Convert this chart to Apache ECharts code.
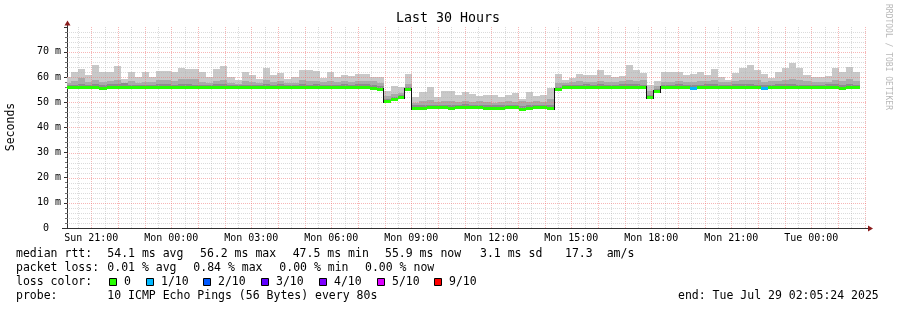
<!DOCTYPE html>
<html><head><meta charset="utf-8">
<script src="https://cdn.jsdelivr.net/npm/echarts@6/dist/echarts.min.js"></script>
<style>html,body{margin:0;padding:0;background:#fff;}#c{width:897px;height:310px;}</style>
</head><body><div id="c"></div>
<script>
const FONT = '"DejaVu Sans Mono", monospace';

// x axis: minutes since start (Sun 20:05:24); 30 hours shown
const spanMinutes = 1800;
const tickMinutes = [54.6, 234.6, 414.6, 594.6, 774.6, 954.6, 1134.6, 1314.6, 1494.6, 1674.6];
const tickLabels = ['Sun 21:00','Mon 00:00','Mon 03:00','Mon 06:00','Mon 09:00','Mon 12:00','Mon 15:00','Mon 18:00','Mon 21:00','Tue 00:00'];
const stepMin = 16;          // consolidation step (960 s)
const firstBarStart = -7;    // minute at which the first step starts

// per-step values (ms)
const median = [
 55.9,56.0,56.1,55.9,56.0,55.8,56.0,56.1,56.0,55.9,56.0,56.1,55.9,56.0,56.0,56.1,56.2,56.0,55.9,56.0,56.0,56.1,56.0,55.9,56.0,56.0,56.1,56.0,55.9,56.0,56.0,56.1,56.0,56.0,55.9,56.0,56.1,56.0,56.0,55.9,56.0,56.0,55.9,55.6,55.4,
 50.4,51.3,52.0,55.1,
 47.8,47.9,48.0,48.1,48.0,47.9,48.0,48.1,48.0,48.0,47.9,47.8,47.9,48.0,48.1,47.5,47.8,48.0,48.0,47.8,
 55.2,56.0,55.9,56.0,56.0,56.1,56.0,56.0,56.0,56.1,56.0,56.0,55.9,
 52.2,54.4,
 56.0,55.9,56.0,56.0,55.8,56.0,56.1,56.0,55.9,56.0,56.0,56.1,56.0,55.9,55.6,56.0,56.0,56.1,56.0,56.0,55.9,56.0,56.0,56.0,56.1,55.6,55.9,55.9
];
const smokeDark = [
 56.9,57.0,57.4,56.8,57.1,56.7,57.2,57.3,57.6,56.9,56.8,57.0,56.9,57.1,57.3,57.0,57.4,57.2,57.0,56.9,56.8,57.1,57.2,56.8,56.7,57.0,56.9,56.8,57.2,57.0,57.1,56.8,56.8,57.2,57.0,57.1,56.8,57.0,57.0,57.1,56.9,57.2,57.3,56.9,56.5,
 51.2,52.0,52.8,56.0,
 48.7,48.8,49.0,49.0,48.9,48.8,48.9,49.1,48.9,49.0,48.8,48.7,48.8,49.0,49.0,48.6,48.7,48.9,48.9,49.0,
 56.2,56.9,56.8,57.0,57.1,57.0,57.2,57.0,56.9,57.1,57.2,57.3,57.0,
 53.0,55.2,
 57.0,56.9,57.1,57.0,56.8,57.0,57.2,57.1,56.8,56.9,57.2,57.3,57.1,57.0,56.7,57.0,57.1,57.4,57.3,57.0,56.9,57.0,57.0,57.1,57.3,56.7,57.2,56.9
];
const smokeMid = [
 57.8,58.6,59.6,58.2,58.8,57.9,58.4,58.9,57.6,58.3,57.7,58.2,57.9,58.8,59.0,58.6,59.3,59.1,59.3,58.2,57.8,58.5,58.9,57.6,57.4,58.3,58.0,57.6,58.9,58.1,58.4,57.5,57.8,58.7,58.3,58.6,57.9,58.5,58.2,58.6,58.1,58.4,58.6,58.3,57.6,
 52.6,53.2,53.6,57.2,
 49.8,50.6,51.0,49.9,50.4,50.3,50.0,50.6,50.1,50.3,50.0,49.8,50.2,50.5,50.0,50.4,49.9,50.3,50.2,51.2,
 57.6,57.8,57.9,58.4,58.0,58.2,58.5,58.1,58.0,58.3,58.8,58.6,58.9,
 54.4,56.4,
 58.2,58.0,58.3,58.2,58.1,58.5,58.4,58.9,57.9,58.0,58.6,59.0,58.7,58.8,58.0,58.4,58.3,58.9,59.2,58.9,58.4,58.1,58.2,58.0,58.8,58.6,59.1,58.5
];
const smokeMax = [
 59.9,61.9,63.3,60.7,64.9,61.9,61.9,64.5,59.2,61.9,59.9,62.1,60.1,62.4,62.4,61.9,63.8,63.3,63.3,61.9,59.9,63.3,64.5,59.9,58.9,61.9,61.0,59.2,63.8,60.7,61.6,59.1,60.1,62.9,62.9,62.5,59.6,62.2,60.1,60.9,60.3,61.4,61.3,60.0,59.9,
 54.5,56.5,55.9,61.3,
 51.9,54.0,55.9,51.9,54.5,54.5,53.0,54.0,53.3,52.3,53.0,53.0,51.9,53.0,53.6,51.4,54.0,52.4,52.7,55.6,
 61.3,58.7,59.6,61.3,60.9,60.9,62.7,60.9,60.0,60.5,64.9,62.9,61.6,
 57.0,58.5,
 62.0,62.0,62.0,60.9,61.4,62.0,60.9,63.1,60.1,59.0,61.6,63.8,64.6,62.9,61.2,59.6,62.0,63.8,65.4,63.8,60.9,60.1,60.1,60.3,63.8,62.0,64.1,62.0
];
// loss per step in tenths (0 = no loss)
const lossTenths = median.map(() => 0);
lossTenths[88] = 1; lossTenths[98] = 1;

const lossLegend = [['0','#26ff00'],['1/10','#00b8ff'],['2/10','#0059ff'],['3/10','#5e00ff'],['4/10','#7e00ff'],['5/10','#dd00ff'],['9/10','#ff0000']];
const lossColorOf = {0:'#26ff00',1:'#00b8ff',2:'#0059ff',3:'#5e00ff',4:'#7e00ff',5:'#dd00ff',9:'#ff0000'};

const rttStats = ['54.1 ms avg','56.2 ms max','47.5 ms min','55.9 ms now','3.1 ms sd','17.3','am/s'];
const lossStats = ['0.01 % avg','0.84 % max','0.00 % min','0.00 % now'];
const probeText = '10 ICMP Echo Pings (56 Bytes) every 80s';
const endText = 'end: Tue Jul 29 02:05:24 2025';

const smokeData = median.map((m, i) => {
  const s = firstBarStart + stepMin * i;
  return [s, s + stepMin, m, smokeDark[i], smokeMid[i], smokeMax[i]];
});
const medData = median.map((m, i) => {
  const s = firstBarStart + stepMin * i;
  return [s, s + stepMin, m, i > 0 ? median[i - 1] : m, lossTenths[i]];
});

// grid line values (decoration)
const gridLines = [];
for (let k = 0; k < 30; k++) { gridLines.push([0, 24.6 + 60 * k, 0]); gridLines.push([0, 54.6 + 60 * k, 1]); }
for (let v = 2; v < 80; v += 2) gridLines.push([1, v, v % 10 === 0 ? 1 : 0]);

function clampX(x, cs) { return Math.max(cs.x, Math.min(cs.x + cs.width, x)); }

const chart = echarts.init(document.getElementById('c'), null, {renderer: 'canvas'});
chart.setOption({
  animation: false,
  backgroundColor: '#ffffff',
  grid: {left: 67, top: 27, width: 800, height: 201},
  xAxis: {
    type: 'value', min: 0, max: spanMinutes,
    axisLine: {show: true, lineStyle: {color: '#303030', width: 1}},
    axisTick: {show: false},
    splitLine: {show: false},
    axisLabel: {
      customValues: tickMinutes,
      formatter: v => { const i = tickMinutes.findIndex(t => Math.abs(t - v) < 0.5); return i >= 0 ? tickLabels[i] : ''; },
      fontFamily: FONT, fontSize: 10, color: '#000', margin: 5
    }
  },
  yAxis: {
    type: 'value', min: 0, max: 79.9, interval: 10,
    axisLine: {show: true, lineStyle: {color: '#303030', width: 1}},
    axisTick: {show: true, length: 3, lineStyle: {color: '#303030'}},
    minorTick: {show: true, splitNumber: 5, length: 2, lineStyle: {color: '#707070'}},
    splitLine: {show: false},
    axisLabel: {
      showMaxLabel: false,
      formatter: v => v === 0 ? '0  ' : (v > 75 ? '' : v + ' m'),
      fontFamily: FONT, fontSize: 10, color: '#000', margin: 6
    }
  },
  series: [
    {
      type: 'custom', z: 1, silent: true,
      data: smokeData,
      renderItem: (params, api) => {
        const cs = params.coordSys;
        const x0 = Math.round(clampX(api.coord([api.value(0), 0])[0], cs));
        const x1 = Math.round(clampX(api.coord([api.value(1), 0])[0], cs));
        const bands = [[2, 3, '#8c8c8c'], [3, 4, '#a9a9a9'], [4, 5, '#c9c9c9']];
        return {type: 'group', children: bands.map(([a, b, c]) => {
          const yt = Math.round(api.coord([0, api.value(b)])[1]);
          const yb = Math.round(api.coord([0, api.value(a)])[1]);
          return {type: 'rect', shape: {x: x0, y: yt, width: x1 - x0, height: Math.max(0, yb - yt)}, style: {fill: c}};
        })};
      }
    },
    {
      type: 'custom', z: 2, silent: true,
      data: gridLines,
      renderItem: (params, api) => {
        const cs = params.coordSys;
        const kind = api.value(0), v = api.value(1), major = api.value(2);
        const color = major ? 'rgba(240,110,110,0.5)' : 'rgba(175,175,175,0.45)';
        if (kind === 0) {
          const x = Math.round(api.coord([v, 0])[0]) + 0.5;
          return {type: 'line', shape: {x1: x, y1: cs.y, x2: x, y2: cs.y + cs.height}, style: {stroke: color, lineWidth: 1, lineDash: [1, 1]}};
        }
        const y = Math.round(api.coord([0, v])[1]) + 0.5;
        return {type: 'line', shape: {x1: cs.x, y1: y, x2: cs.x + cs.width, y2: y}, style: {stroke: color, lineWidth: 1, lineDash: [1, 1]}};
      }
    },
    {
      type: 'custom', z: 3, silent: true,
      data: medData,
      renderItem: (params, api) => {
        const cs = params.coordSys;
        const x0 = Math.round(clampX(api.coord([api.value(0), 0])[0], cs));
        const x1 = Math.round(clampX(api.coord([api.value(1), 0])[0], cs));
        const y = Math.round(api.coord([0, api.value(2)])[1]);
        const yp = Math.round(api.coord([0, api.value(3)])[1]);
        const col = lossColorOf[api.value(4)] || '#26ff00';
        const children = [];
        if (Math.abs(y - yp) >= 3) {
          children.push({type: 'rect', shape: {x: x0 - 1, y: Math.min(y, yp) - 1, width: 1, height: Math.abs(y - yp) + 3}, style: {fill: '#111'}});
        }
        children.push({type: 'rect', shape: {x: x0, y: y - 1, width: x1 - x0, height: 3}, style: {fill: col}});
        return {type: 'group', children};
      }
    }
  ],
  graphic: (function () {
    const g = [];
    const t = (x, y, text) => g.push({type: 'text', x, y, style: {text, font: '11.5px ' + FONT, fill: '#000', verticalAlign: 'middle'}});
    g.push({type: 'text', x: 448, y: 19, style: {text: 'Last 30 Hours', font: '13.3px ' + FONT, fill: '#000', align: 'center', verticalAlign: 'middle'}});
    g.push({type: 'text', x: 11, y: 127, rotation: Math.PI / 2, style: {text: 'Seconds', font: '11.5px ' + FONT, fill: '#000', align: 'center', verticalAlign: 'middle'}});
    g.push({type: 'text', x: 888, y: 57, rotation: -Math.PI / 2, style: {text: 'RRDTOOL / TOBI OETIKER', font: '8px ' + FONT, fill: '#b8b8b8', align: 'center', verticalAlign: 'middle'}});
    // axis extensions + arrows
    g.push({type: 'line', shape: {x1: 62, y1: 228.5, x2: 67, y2: 228.5}, style: {stroke: '#303030', lineWidth: 1}});
    g.push({type: 'line', shape: {x1: 867, y1: 228.5, x2: 869, y2: 228.5}, style: {stroke: '#303030', lineWidth: 1}});
    g.push({type: 'line', shape: {x1: 67.5, y1: 27, x2: 67.5, y2: 24}, style: {stroke: '#303030', lineWidth: 1}});
    g.push({type: 'polygon', shape: {points: [[64.5, 25.5], [70.5, 25.5], [67.5, 20.5]]}, style: {fill: '#8b1c1c'}});
    g.push({type: 'polygon', shape: {points: [[868, 225.5], [868, 231.5], [873, 228.5]]}, style: {fill: '#8b1c1c'}});
    // legend lines
    const L1 = 254.5, L2 = 268.5, L3 = 282.5, L4 = 296.5;
    t(16, L1, 'median rtt:');
    [107.3, 200, 292.7, 385, 480, 565, 606.7].forEach((x, i) => t(x, L1, rttStats[i]));
    t(16, L2, 'packet loss:');
    [107.3, 193.3, 279.3, 365].forEach((x, i) => t(x, L2, lossStats[i]));
    t(16, L3, 'loss color:');
    [109, 145.7, 203.3, 261, 318.7, 376.7, 434.3].forEach((x, i) => {
      const bx = Math.round(x) + 0.5;
      g.push({type: 'rect', shape: {x: bx, y: 278.5, width: 7, height: 7}, style: {fill: lossLegend[i][1], stroke: '#000', lineWidth: 1}});
      t(Math.round(x) + 15, L3, lossLegend[i][0]);
    });
    t(16, L4, 'probe:');
    t(107.3, L4, probeText);
    t(678, L4, endText);
    return g;
  })()
});
</script>
</body></html>
